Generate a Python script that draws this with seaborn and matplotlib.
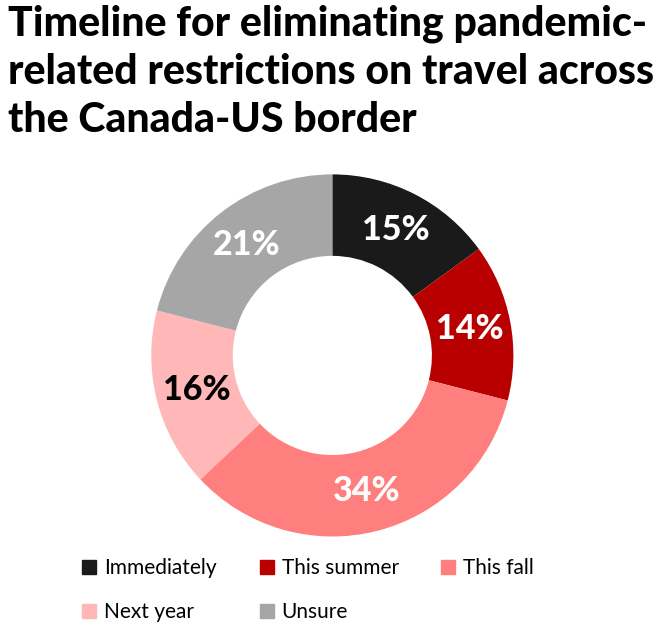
import seaborn as sns
import matplotlib.pyplot as plt
from matplotlib.lines import Line2D

sns.set_style("white")
plt.rcParams["font.family"] = ["Lato", "DejaVu Sans"]
plt.rcParams["text.color"] = "black"

# Survey data
categories = ["Immediately", "This summer", "This fall", "Next year", "Unsure"]
shares = [15, 14, 34, 16, 21]
colors = ["#1a1a1a", "#b90000", "#ff7f7f", "#ffb7b7", "#a6a6a6"]
label_colors = ["white", "white", "white", "black", "white"]

fig = plt.figure(figsize=(6.62, 6.28), dpi=100)

fig.text(0.012, 0.993,
         "Timeline for eliminating pandemic-\nrelated restrictions on travel across\nthe Canada-US border",
         ha="left", va="top", fontsize=29.5, fontweight=900, linespacing=1.32)

# donut
ax = fig.add_axes([0.2285, 0.1455, 0.547, 0.577])
wedges, texts, autotexts = ax.pie(
    shares, colors=colors, startangle=90, counterclock=False,
    wedgeprops=dict(width=0.45, edgecolor="none"),
    autopct="%d%%", pctdistance=0.775,
    textprops=dict(fontsize=24.5, fontweight=900))
for t, c in zip(autotexts, label_colors):
    t.set_color(c)
ax.set_xlim(-1.0, 1.0)
ax.set_ylim(-1.0, 1.0)
ax.set_aspect("equal")

# legend
handles = [Line2D([], [], marker="s", linestyle="none", markersize=9.5,
                  markerfacecolor=c, markeredgecolor=c) for c in colors]
order = [0, 3, 1, 4, 2]
fig.legend([handles[i] for i in order], [categories[i] for i in order],
           loc="upper left", bbox_to_anchor=(0.1105, 0.125), ncol=3,
           frameon=False, fontsize=15, handlelength=0.75, handletextpad=0.35,
           columnspacing=2.0, labelspacing=1.15, borderaxespad=0,
           labelcolor="black")

plt.savefig("out.png", dpi=100)
